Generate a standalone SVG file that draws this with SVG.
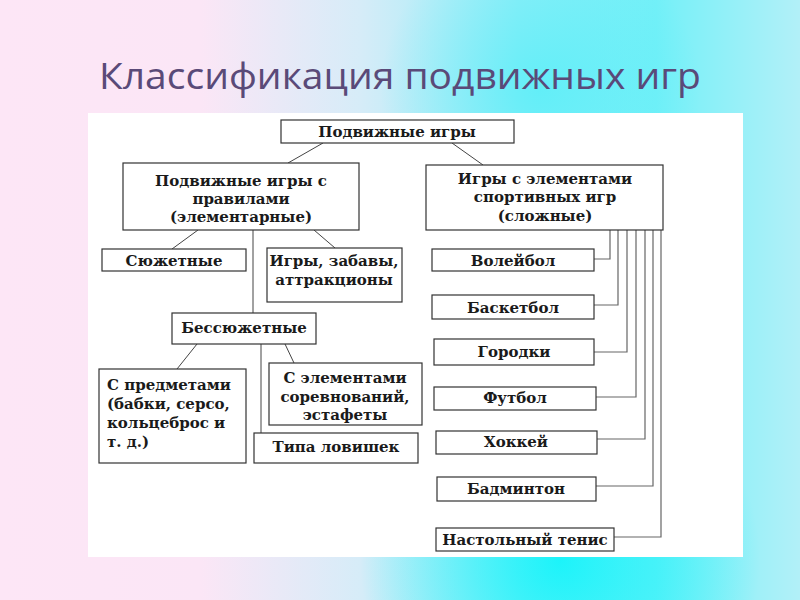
<svg xmlns="http://www.w3.org/2000/svg" width="800" height="600" viewBox="0 0 800 600">
<defs>
<linearGradient id="bg" x1="0" y1="0" x2="1" y2="0">
<stop offset="0" stop-color="#fde6f6"/>
<stop offset="0.25" stop-color="#fbe6f6"/>
<stop offset="0.45" stop-color="#d6ecf8"/>
<stop offset="0.65" stop-color="#92eef8"/>
<stop offset="0.82" stop-color="#74f0f8"/>
<stop offset="1" stop-color="#b2f0f8"/>
</linearGradient>
<radialGradient id="spot1" cx="560" cy="560" r="200" gradientUnits="userSpaceOnUse">
<stop offset="0" stop-color="#10f4fa" stop-opacity="0.9"/>
<stop offset="1" stop-color="#10f4fa" stop-opacity="0"/>
</radialGradient>
<radialGradient id="spot2" cx="540" cy="90" r="160" gradientUnits="userSpaceOnUse">
<stop offset="0" stop-color="#50eef8" stop-opacity="0.7"/>
<stop offset="1" stop-color="#50eef8" stop-opacity="0"/>
</radialGradient>
<style>
.box{fill:#ffffff;stroke:#333333;stroke-width:1.2}
.t{font-family:"DejaVu Serif","Liberation Serif",serif;font-weight:bold;font-size:15px;fill:#1a1a1a;text-anchor:middle}
.l{text-anchor:start}
.c{fill:none;stroke:#444444;stroke-width:1}
.g{fill:none;stroke:#666666;stroke-width:1.2}
</style>
</defs>
<rect x="0" y="0" width="800" height="600" fill="url(#bg)"/>
<rect x="0" y="0" width="800" height="600" fill="url(#spot1)"/>
<rect x="0" y="0" width="800" height="600" fill="url(#spot2)"/>
<text x="99" y="89" textLength="602" lengthAdjust="spacingAndGlyphs" font-family="Open Sans, DejaVu Sans, sans-serif" font-weight="500" font-size="36" fill="#5a4a78">Классификация подвижных игр</text>
<rect x="88" y="113" width="655" height="444" fill="#ffffff"/>

<g id="connectors">
<line class="c" x1="323" y1="143" x2="288" y2="163"/>
<line class="c" x1="452" y1="143" x2="483" y2="165"/>
<line class="c" x1="198" y1="230" x2="172" y2="249"/>
<line class="c" x1="314" y1="230" x2="335" y2="248"/>
<line class="c" x1="253" y1="230" x2="253" y2="313"/>
<line class="c" x1="197" y1="344" x2="177" y2="369"/>
<line class="c" x1="285" y1="344" x2="294" y2="363"/>
<line class="c" x1="261" y1="344" x2="261" y2="433"/>
<polyline class="g" points="594,259 610,259 610,230"/>
<polyline class="g" points="594,305 618,305 618,230"/>
<polyline class="g" points="594,352 627,352 627,230"/>
<polyline class="g" points="596,397 636,397 636,230"/>
<polyline class="g" points="597,439 645,439 645,230"/>
<polyline class="g" points="596,486 653,486 653,230"/>
<polyline class="g" points="614,537 661,537 661,230"/>
</g>

<g id="n-root">
<rect class="box" x="281" y="120" width="233" height="23"/>
<text class="t" x="397" y="137">Подвижные игры</text>
</g>
<g id="n-rules">
<rect class="box" x="123" y="163" width="236" height="67"/>
<text class="t" x="241" y="186">Подвижные игры с</text>
<text class="t" x="241" y="204">правилами</text>
<text class="t" x="241" y="222">(элементарные)</text>
</g>
<g id="n-sport">
<rect class="box" x="426" y="165" width="237" height="65"/>
<text class="t" x="545" y="184">Игры с элементами</text>
<text class="t" x="545" y="202">спортивных игр</text>
<text class="t" x="545" y="221">(сложные)</text>
</g>
<g id="n-plot">
<rect class="box" x="102" y="249" width="144" height="22"/>
<text class="t" x="174" y="266">Сюжетные</text>
</g>
<g id="n-fun">
<rect class="box" x="267" y="248" width="135" height="54"/>
<text class="t" x="334" y="266">Игры, забавы,</text>
<text class="t" x="334" y="285">аттракционы</text>
</g>
<g id="n-noplot">
<rect class="box" x="172" y="313" width="144" height="31"/>
<text class="t" x="244" y="333">Бессюжетные</text>
</g>
<g id="n-objects">
<rect class="box" x="99" y="369" width="147" height="94"/>
<text class="t l" x="107" y="390">С предметами</text>
<text class="t l" x="107" y="409">(бабки, серсо,</text>
<text class="t l" x="107" y="428">кольцеброс и</text>
<text class="t l" x="107" y="447">т. д.)</text>
</g>
<g id="n-compete">
<rect class="box" x="269" y="363" width="153" height="62"/>
<text class="t" x="345" y="383">С элементами</text>
<text class="t" x="345" y="402">соревнований,</text>
<text class="t" x="345" y="420">эстафеты</text>
</g>
<g id="n-catch">
<rect class="box" x="254" y="433" width="164" height="30"/>
<text class="t" x="336" y="452">Типа ловишек</text>
</g>
<g id="n-volley">
<rect class="box" x="432" y="249" width="162" height="22"/>
<text class="t" x="513" y="266">Волейбол</text>
</g>
<g id="n-basket">
<rect class="box" x="432" y="295" width="162" height="24"/>
<text class="t" x="513" y="313">Баскетбол</text>
</g>
<g id="n-gorodki">
<rect class="box" x="434" y="339" width="160" height="26"/>
<text class="t" x="514" y="357">Городки</text>
</g>
<g id="n-football">
<rect class="box" x="434" y="387" width="162" height="23"/>
<text class="t" x="515" y="403">Футбол</text>
</g>
<g id="n-hockey">
<rect class="box" x="436" y="431" width="161" height="23"/>
<text class="t" x="516" y="447">Хоккей</text>
</g>
<g id="n-badminton">
<rect class="box" x="437" y="477" width="159" height="24"/>
<text class="t" x="516" y="494">Бадминтон</text>
</g>
<g id="n-tennis">
<rect class="box" x="436" y="528" width="178" height="23"/>
<text class="t" x="525" y="545">Настольный тенис</text>
</g>
</svg>
